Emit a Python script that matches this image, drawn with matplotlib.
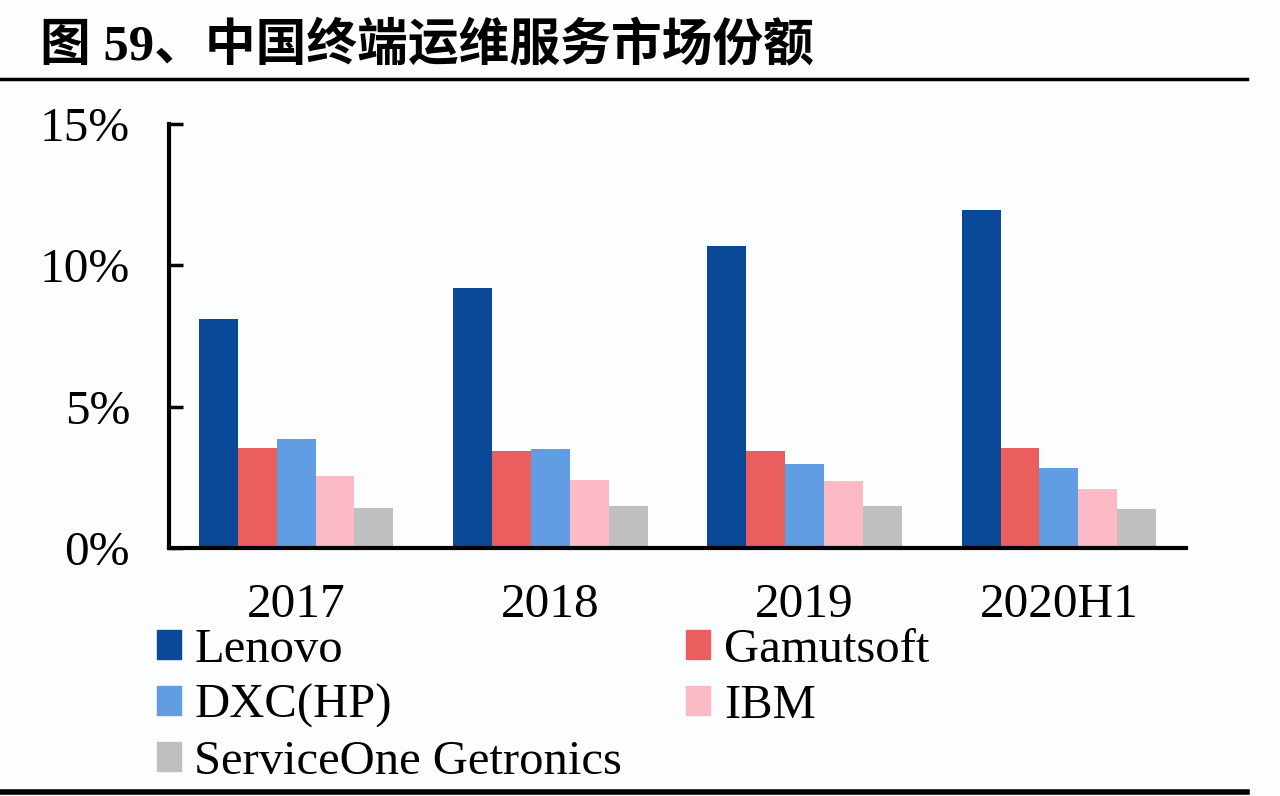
import matplotlib
matplotlib.use("Agg")
import matplotlib.pyplot as plt
import numpy as np
from matplotlib.patches import Patch
from matplotlib.lines import Line2D

categories = ["2017", "2018", "2019", "2020H1"]
series_names = ["Lenovo", "Gamutsoft", "DXC(HP)", "IBM", "ServiceOne Getronics"]
lenovo = [8.1, 9.2, 10.7, 11.95]
gamutsoft = [3.53, 3.43, 3.43, 3.53]
dxc = [3.85, 3.5, 2.97, 2.84]
ibm = [2.54, 2.4, 2.37, 2.08]
serviceone = [1.41, 1.48, 1.48, 1.38]
yticks = [0, 5, 10, 15]
ytick_labels = ["0%", "5%", "10%", "15%"]
title = "图 59、中国终端运维服务市场份额"

colors = ["#0A4898", "#EA5F5E", "#619DE3", "#FBBAC6", "#BFBFC1"]
values = [lenovo, gamutsoft, dxc, ibm, serviceone]

bg = "#FCFDFF"
fig = plt.figure(figsize=(12.8, 7.96), dpi=100, facecolor=bg)
ax = fig.add_axes([169/1280, 1-548/796, (1186-169)/1280, (548-124)/796])
ax.set_facecolor(bg)

serif = ["Liberation Serif", "Noto Sans CJK SC"]
x = np.arange(len(categories))
bw = 0.153
n = len(values)
for i, (vals, c, name) in enumerate(zip(values, colors, series_names)):
    ax.bar(x + (i - (n - 1) / 2) * bw, vals, width=bw, color=c, label=name, zorder=2)

ax.set_xlim(-0.5, 3.5)
ax.set_ylim(0, 15)
ax.set_yticks(yticks)
ax.set_yticklabels(ytick_labels, family=serif, fontsize=35.5)
ax.set_xticks(x)
ax.set_xticklabels(categories, family=serif, fontsize=35.5)
ax.tick_params(axis="y", direction="in", length=10, width=2.5, pad=28)
ax.tick_params(axis="x", length=0, pad=25)
for s in ["top", "right"]:
    ax.spines[s].set_visible(False)
for s in ["left", "bottom"]:
    ax.spines[s].set_linewidth(3)
    ax.spines[s].set_color("black")

# row-major order: column 1 = Lenovo, DXC(HP), ServiceOne; column 2 = Gamutsoft, IBM
order = [0, 2, 4, 1, 3]
handles = [Patch(facecolor=colors[k], edgecolor=colors[k]) for k in order]
labels = [series_names[k] for k in order]
leg = fig.legend(handles, labels, loc="upper left",
                 bbox_to_anchor=(157/1280, 1-628/796), ncol=2, frameon=False,
                 prop={"family": serif, "size": 35},
                 handlelength=0.49, handleheight=0.53, handletextpad=0.28,
                 columnspacing=1.32, labelspacing=0.24, borderpad=0, borderaxespad=0)

fig.text(40/1280, 1-47/796, title, fontsize=36.5, fontweight="bold",
         family=["Liberation Serif", "Noto Sans CJK SC"], va="center", ha="left")

fig.add_artist(Line2D([0/1280, 1247/1280], [1-79/796, 1-79/796], color="black", lw=2.5,
                      transform=fig.transFigure))
fig.add_artist(Line2D([0/1280, 1247/1280], [1-792/796, 1-792/796], color="black", lw=4,
                      transform=fig.transFigure))

fig.savefig("out.png", dpi=100, facecolor=bg)
